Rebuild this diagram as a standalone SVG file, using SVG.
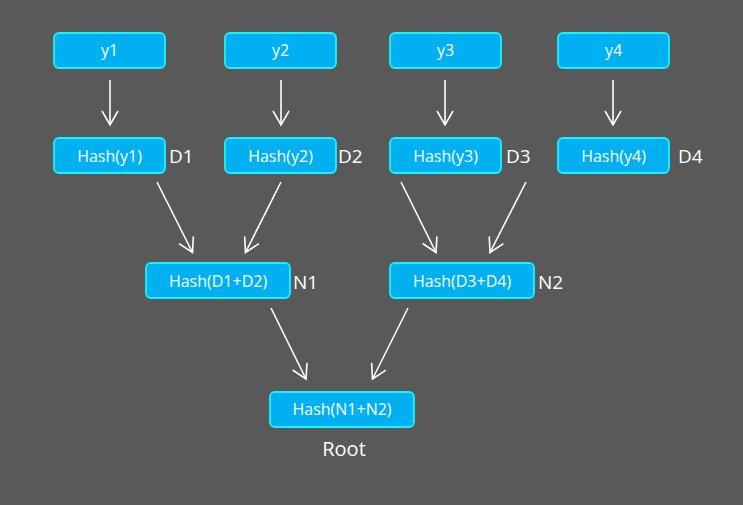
<svg xmlns="http://www.w3.org/2000/svg" width="743" height="505" viewBox="0 0 743 505">
<defs>
<style>
.box{fill:#00B0F0;stroke:#18F4FF;stroke-width:1.8}
.t{fill:#FFFFFF;font-family:"Open Sans","Noto Sans","Liberation Sans",sans-serif;font-size:16px;text-anchor:middle}
.lbl{fill:#FFFFFF;font-family:"Open Sans","Noto Sans","Liberation Sans",sans-serif;font-size:19px}
.c{stroke:#FFFFFF;stroke-width:1.6;fill:none;marker-end:url(#ah)}
</style>
<marker id="ah" markerUnits="userSpaceOnUse" viewBox="-16 -10 18 20" markerWidth="18" markerHeight="20" refX="0" refY="0" orient="auto">
<path d="M-14,-8 L0,0 L-14,8" fill="none" stroke="#FFFFFF" stroke-width="1.6"/>
</marker>
</defs>
<rect width="743" height="505" fill="#595959"/>
<g id="connectors">
<line class="c" x1="110" y1="80" x2="110" y2="125"/>
<line class="c" x1="281" y1="80" x2="281" y2="125"/>
<line class="c" x1="445" y1="80" x2="445" y2="125"/>
<line class="c" x1="613" y1="80" x2="613" y2="125"/>
<line class="c" x1="157" y1="182" x2="192.5" y2="252.5"/>
<line class="c" x1="281" y1="182" x2="245.5" y2="252.5"/>
<line class="c" x1="401" y1="182" x2="436" y2="252.5"/>
<line class="c" x1="526" y1="182" x2="490" y2="252.5"/>
<line class="c" x1="271" y1="308" x2="306" y2="379"/>
<line class="c" x1="408" y1="308" x2="372.5" y2="379"/>
</g>
<g id="y1"><rect class="box" x="54" y="33" width="111" height="35" rx="5"/><text class="t" x="109.5" y="56">y1</text></g>
<g id="y2"><rect class="box" x="225" y="33" width="111" height="35" rx="5"/><text class="t" x="280.5" y="56">y2</text></g>
<g id="y3"><rect class="box" x="390" y="33" width="111" height="35" rx="5"/><text class="t" x="445.5" y="56">y3</text></g>
<g id="y4"><rect class="box" x="558" y="33" width="111" height="35" rx="5"/><text class="t" x="613.5" y="56">y4</text></g>
<g id="hy1"><rect class="box" x="54" y="138" width="111" height="35" rx="5"/><text class="t" x="109.5" y="161.5">Hash(y1)</text><text class="lbl" x="169" y="163">D1</text></g>
<g id="hy2"><rect class="box" x="225" y="138" width="111" height="35" rx="5"/><text class="t" x="280.5" y="161.5">Hash(y2)</text><text class="lbl" x="338" y="163">D2</text></g>
<g id="hy3"><rect class="box" x="390" y="138" width="111" height="35" rx="5"/><text class="t" x="445.5" y="161.5">Hash(y3)</text><text class="lbl" x="506" y="163">D3</text></g>
<g id="hy4"><rect class="box" x="558" y="138" width="111" height="35" rx="5"/><text class="t" x="613.5" y="161.5">Hash(y4)</text><text class="lbl" x="678" y="163">D4</text></g>
<g id="n1"><rect class="box" x="146" y="263" width="144" height="35" rx="5"/><text class="t" x="218" y="286.5">Hash(D1+D2)</text><text class="lbl" x="293" y="288.5">N1</text></g>
<g id="n2"><rect class="box" x="390" y="263" width="144" height="35" rx="5"/><text class="t" x="462" y="286.5">Hash(D3+D4)</text><text class="lbl" x="538" y="288.5">N2</text></g>
<g id="root"><rect class="box" x="270" y="392" width="144" height="35" rx="5"/><text class="t" x="342" y="415">Hash(N1+N2)</text><text class="lbl" x="344" y="456" text-anchor="middle" style="font-size:20px">Root</text></g>
</svg>
